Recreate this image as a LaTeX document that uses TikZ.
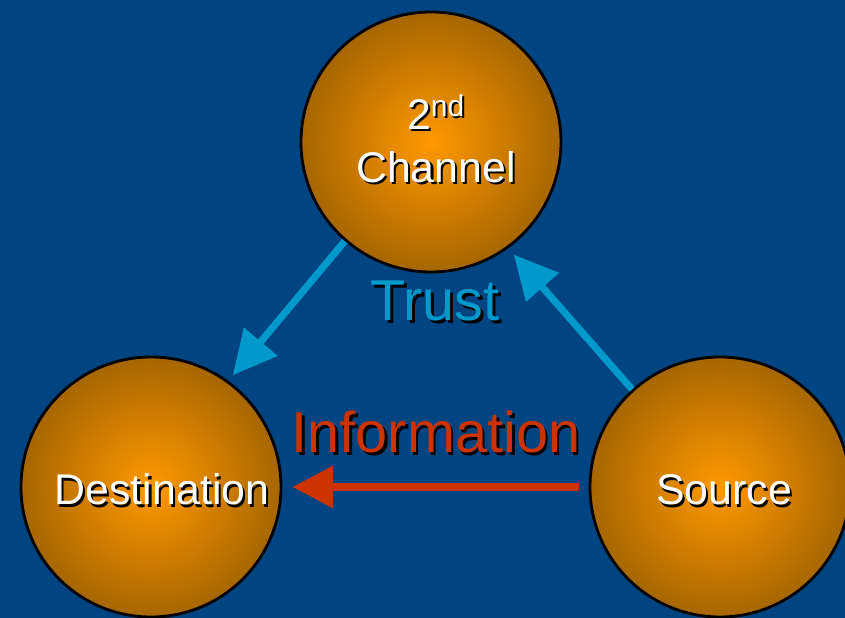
\documentclass[tikz,border=0pt]{standalone}
\usepackage{fontspec}
\setmainfont{Liberation Sans}
\usetikzlibrary{arrows.meta}
\definecolor{slideblue}{RGB}{0,69,130}
\definecolor{orbin}{RGB}{255,153,0}
\definecolor{orbout}{RGB}{166,102,0}
\definecolor{trustcol}{RGB}{0,153,204}
\definecolor{infocol}{RGB}{204,51,0}
\newcommand{\shadowed}[3]{\rlap{\kern#3\raisebox{-#3}{\color{black}#2}}{\color{#1}#2}}
\tikzset{
  orb/.style={circle, draw=black, line width=2pt, minimum size=6.5cm, inner sep=0pt,
    inner color=orbin, outer color=orbout},
  orbtext/.style={font=\fontsize{30.5}{38}\selectfont, align=center, inner sep=0pt},
  bigtext/.style={font=\fontsize{41}{48}\selectfont, inner sep=0pt, anchor=base},
  trustarrow/.style={draw=trustcol, line width=5pt, -{Triangle[length=31pt,width=30pt]}},
  infoarrow/.style={draw=infocol, line width=5pt, -{Triangle[length=29pt,width=29pt]}}
}
\begin{document}
\begin{tikzpicture}
  \fill[slideblue] (0,0) rectangle (21.125,15.45);
  \useasboundingbox (0,0) rectangle (21.125,15.45);
  % the three parties
  \node[orb] (chan) at (10.775,11.9) {};
  \node[orb] (dest) at (3.775,3.275) {};
  \node[orb] (src) at (18.0,3.275) {};
  \node[orbtext] (chan-txt) at (10.9,11.95) {\shadowed{white}{2\textsuperscript{nd}}{1.5pt}\\\shadowed{white}{Channel}{1.5pt}};
  \node[orbtext, anchor=base] (dest-txt) at (4.05,2.825) {\shadowed{white}{Destination}{1.5pt}};
  \node[orbtext, anchor=base] (src-txt) at (18.1,2.825) {\shadowed{white}{Source}{1.5pt}};
  % arrows and their labels
  \draw[trustarrow, shorten >=0.18cm] (chan.-131) -- (dest.54);
  \draw[trustarrow, shorten >=0.21cm] (src.132) -- (chan.-54);
  \draw[infoarrow, shorten <=0.25cm, shorten >=0.25cm] (src) -- (dest);
  \node[bigtext] (trust) at (10.875,7.425) {\shadowed{trustcol}{Trust}{2pt}};
  \node[bigtext] (info) at (10.9,4.125) {\shadowed{infocol}{Information}{2pt}};
\end{tikzpicture}
\end{document}
